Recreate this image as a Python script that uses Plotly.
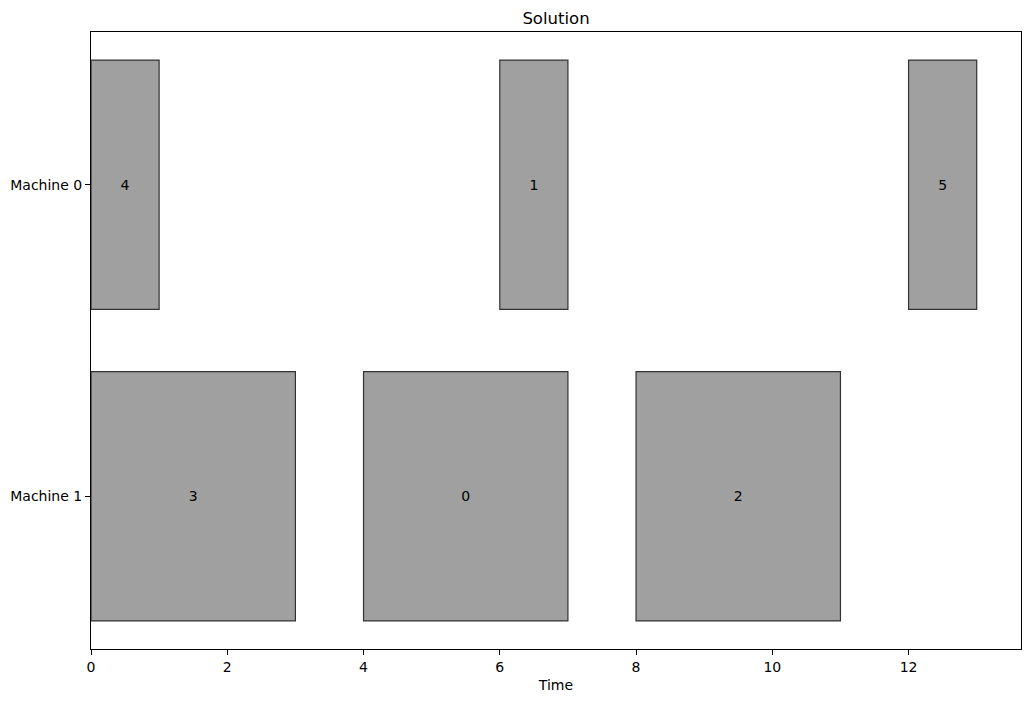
import plotly.graph_objects as go

machines = ["Machine 0", "Machine 1"]
job_ids = [4, 1, 5, 3, 0, 2]
job_machine = [0, 0, 0, 1, 1, 1]
job_start = [0, 6, 12, 0, 4, 8]
job_duration = [1, 1, 1, 3, 3, 3]
x_ticks = [0, 2, 4, 6, 8, 10, 12]

fig = go.Figure()
fig.add_trace(go.Bar(
    orientation="h",
    y=job_machine,
    x=job_duration,
    base=job_start,
    width=0.8,
    text=[str(j) for j in job_ids],
    textposition="inside",
    insidetextanchor="middle",
    constraintext="none",
    textfont=dict(family="DejaVu Sans", size=14, color="black"),
    marker=dict(color="#a0a0a0", line=dict(color="#333333", width=1.2)),
    hoverinfo="skip",
))

fig.update_layout(
    width=1031, height=701,
    margin=dict(l=91, r=10, t=32, b=52),
    paper_bgcolor="white", plot_bgcolor="white",
    barmode="overlay",
    showlegend=False,
    font=dict(family="DejaVu Sans", size=14, color="black"),
    title=dict(text="Solution", x=(91 + 1021) / 2 / 1031, xanchor="center",
               y=1 - 18 / 701, yanchor="middle",
               font=dict(family="DejaVu Sans", size=16.5, color="black")),
)
fig.update_xaxes(
    range=[0, 13.65], tickvals=x_ticks, ticks="outside", ticklen=5, tickcolor="black",
    showline=True, linecolor="black", linewidth=1, mirror=True, showgrid=False,
    zeroline=False, title=dict(text="Time", font=dict(size=14), standoff=6),
)
fig.update_yaxes(
    range=[1.49, -0.49], tickvals=[0, 1], ticktext=machines, ticks="outside", ticklen=5,
    tickcolor="black", showline=True, linecolor="black", linewidth=1, mirror=True,
    showgrid=False, zeroline=False,
)

fig.write_html("out.html")
